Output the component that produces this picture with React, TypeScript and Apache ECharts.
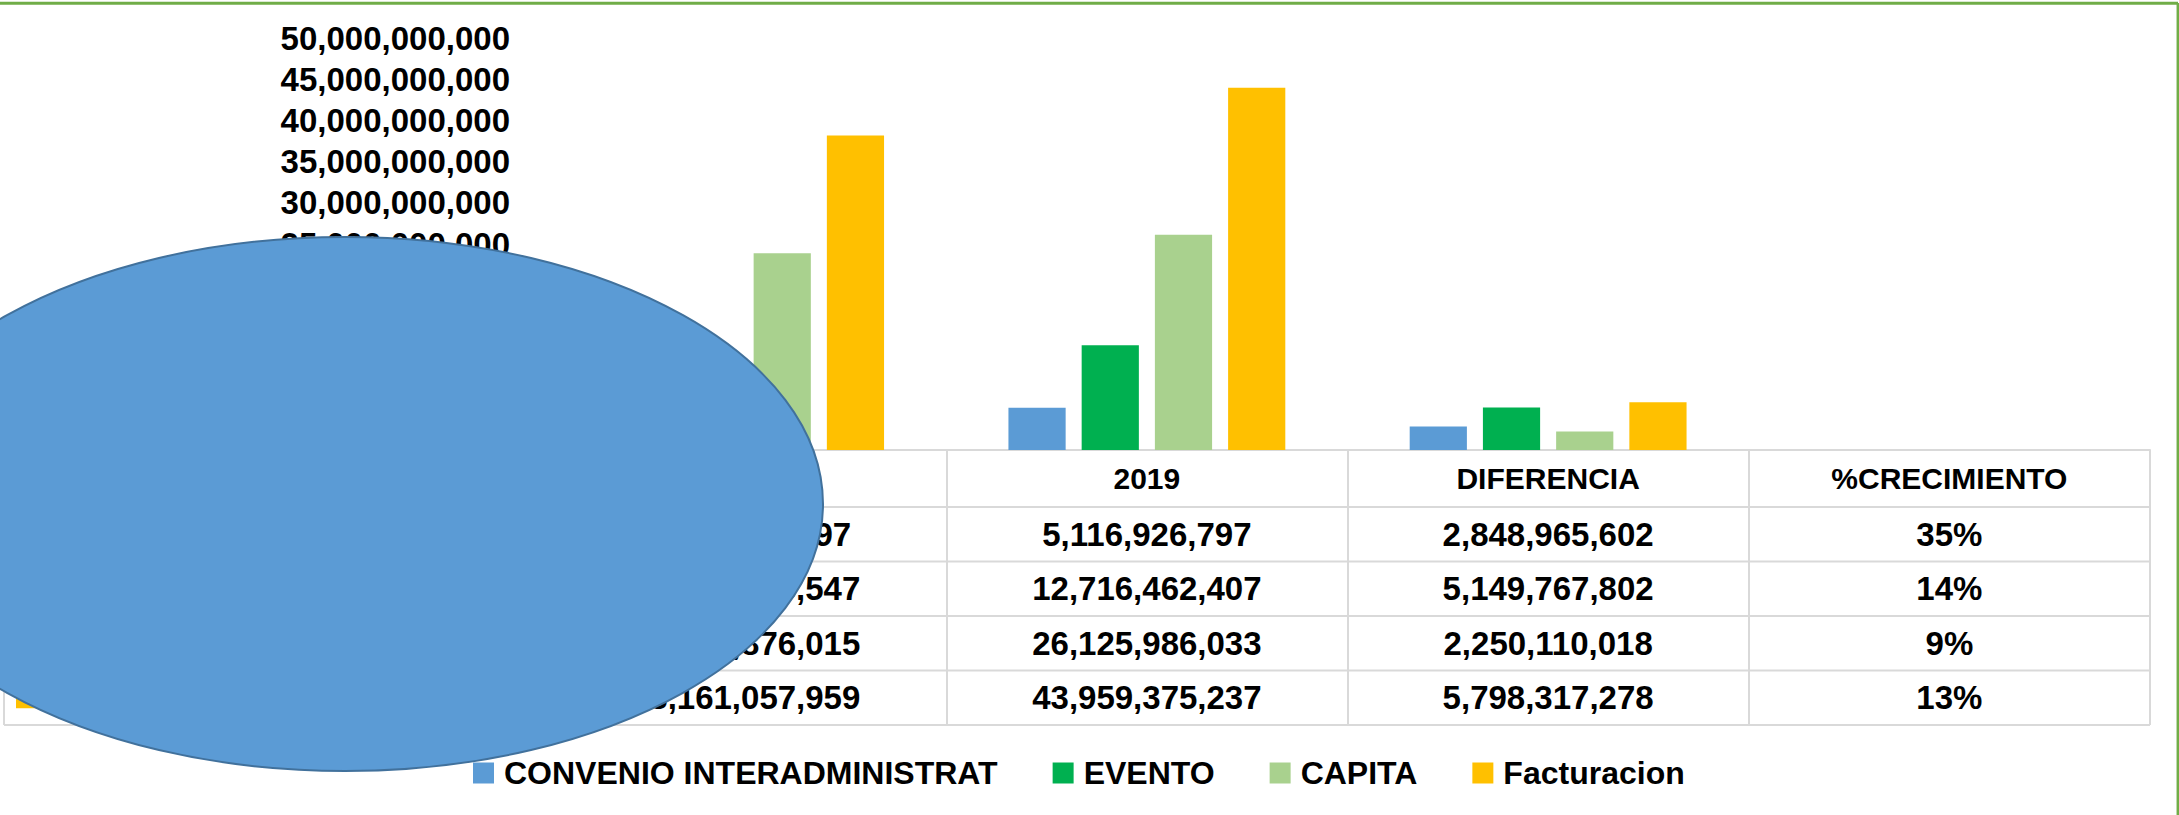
import React, { useEffect, useRef } from "react";
import * as echarts from "echarts";

const categories = ["2018", "2019", "DIFERENCIA", "%CRECIMIENTO"];
const seriesNames = ["CONVENIO INTERADMINISTRAT", "EVENTO", "CAPITA", "Facturacion"];
const convenio = [3790316397, 5116926797, 2848965602, 0.35];
const evento = [10494865547, 12716462407, 5149767802, 0.14];
const capita = [23875876015, 26125986033, 2250110018, 0.09];
const facturacion = [38161057959, 43959375237, 5798317278, 0.13];
const seriesColors = ["#5B9BD5", "#00B050", "#A9D18E", "#FFC000"];
const yMin = 0;
const yMax = 50000000000;
const yInterval = 5000000000;

const rows = [convenio, evento, capita, facturacion];
const FONT = '"Liberation Sans", Arial, sans-serif';

const fmtNum = (v: number) => Math.round(v).toLocaleString("en-US");
const fmtCell = (v: number, idx: number) =>
  idx === 3 ? Math.round(v * 100) + "%" : fmtNum(v);

const AXIS_Y = 450;
const HEADER_H = 57;
const ROW_H = 54.5;
const TABLE_LEFT = 4;
const GRID_LEFT = 545;
const GRID_RIGHT_X = 2150;

export default function App() {
  const ref = useRef<HTMLDivElement>(null);

  useEffect(() => {
    if (!ref.current) return;
    const chart = echarts.init(ref.current, null, { renderer: "svg" });

    const rowAxes = rows.map((r, i) => ({
      type: "category",
      gridIndex: 0,
      data: categories,
      position: "bottom",
      offset: HEADER_H + ROW_H * i,
      axisLine: { show: false },
      axisTick: { show: false },
      splitLine: { show: false },
      axisLabel: {
        interval: 0,
        margin: 0,
        lineHeight: ROW_H,
        fontSize: 33,
        fontWeight: "bold",
        fontFamily: FONT,
        color: "#000",
        formatter: (_v: string, idx: number) => fmtCell(r[idx], idx),
      },
    }));

    const lineStyle = { stroke: "#D9D9D9", lineWidth: 2 };
    const graphics: any[] = [];
    // table borders (layout)
    const rowLinesY = [0, 1, 2, 3, 4].map((k) => AXIS_Y + HEADER_H + ROW_H * k);
    rowLinesY.forEach((y) =>
      graphics.push({ type: "line", shape: { x1: TABLE_LEFT, y1: y, x2: GRID_RIGHT_X, y2: y }, style: lineStyle, z: 1 })
    );
    graphics.push({ type: "line", shape: { x1: TABLE_LEFT, y1: AXIS_Y, x2: GRID_LEFT, y2: AXIS_Y }, style: lineStyle, z: 1 });
    graphics.push({
      type: "line",
      shape: { x1: TABLE_LEFT, y1: AXIS_Y, x2: TABLE_LEFT, y2: AXIS_Y + HEADER_H + ROW_H * 4 },
      style: lineStyle,
      z: 1,
    });
    // row headers: legend keys + names
    seriesNames.forEach((name, i) => {
      const cy = AXIS_Y + HEADER_H + ROW_H * i + ROW_H / 2;
      graphics.push({ type: "rect", shape: { x: 16, y: cy - 10.5, width: 21, height: 21 }, style: { fill: seriesColors[i] }, z: 1 });
      graphics.push({
        type: "text",
        x: 45,
        y: cy,
        style: { text: name, fill: "#000", font: `bold 31px ${FONT}`, verticalAlign: "middle" },
        z: 1,
      });
    });
    // green frame
    graphics.push({ type: "line", shape: { x1: 0, y1: 3.3, x2: 2178, y2: 3.3 }, style: { stroke: "#70AD47", lineWidth: 3 }, z: 50 });
    graphics.push({ type: "line", shape: { x1: 2177.8, y1: 3, x2: 2177.8, y2: 815 }, style: { stroke: "#70AD47", lineWidth: 2.5 }, z: 50 });
    // overlay ellipse
    graphics.push({
      type: "ellipse",
      shape: { cx: 345, cy: 504, rx: 478, ry: 267 },
      style: { fill: "#5B9BD5", stroke: "#41719C", lineWidth: 2 },
      z: 100,
    });

    chart.setOption({
      animation: false,
      backgroundColor: "#fff",
      grid: {
        left: GRID_LEFT,
        right: 2179 - GRID_RIGHT_X,
        top: 38,
        bottom: 815 - AXIS_Y,
        containLabel: false,
        outerBoundsMode: "none",
      },
      legend: {
        data: seriesNames,
        left: 473,
        top: 757,
        orient: "horizontal",
        icon: "rect",
        itemWidth: 21,
        itemHeight: 21,
        itemGap: 55,
        padding: 0,
        selectedMode: false,
        textStyle: {
          fontSize: 32,
          fontWeight: "bold",
          fontFamily: FONT,
          color: "#000",
          lineHeight: 21,
          padding: [0, 0, 0, 5],
        },
      },
      xAxis: [
        {
          type: "category",
          gridIndex: 0,
          data: categories,
          position: "bottom",
          axisLine: { show: true, lineStyle: { color: "#D9D9D9", width: 2 } },
          axisTick: {
            show: true,
            alignWithLabel: false,
            length: HEADER_H + ROW_H * 4,
            lineStyle: { color: "#D9D9D9", width: 2 },
          },
          splitLine: { show: false },
          axisLabel: {
            interval: 0,
            margin: 0,
            lineHeight: HEADER_H,
            fontSize: 30,
            fontWeight: "bold",
            fontFamily: FONT,
            color: "#000",
          },
        },
        ...rowAxes,
      ],
      yAxis: {
        type: "value",
        min: yMin,
        max: yMax,
        interval: yInterval,
        axisLine: { show: false },
        axisTick: { show: false },
        splitLine: { show: false },
        axisLabel: {
          margin: 35,
          fontSize: 33,
          fontWeight: "bold",
          fontFamily: FONT,
          color: "#000",
          formatter: (v: number) => fmtNum(v),
        },
      },
      series: rows.map((r, i) => ({
        name: seriesNames[i],
        type: "bar",
        xAxisIndex: 0,
        yAxisIndex: 0,
        data: r,
        barGap: "28%",
        barCategoryGap: "31%",
        itemStyle: { color: seriesColors[i] },
      })),
      graphic: graphics,
    });

    return () => chart.dispose();
  }, []);

  return (
    <div
      ref={ref}
      style={{ position: "absolute", left: 0, top: 0, width: 2179, height: 815 }}
    />
  );
}
